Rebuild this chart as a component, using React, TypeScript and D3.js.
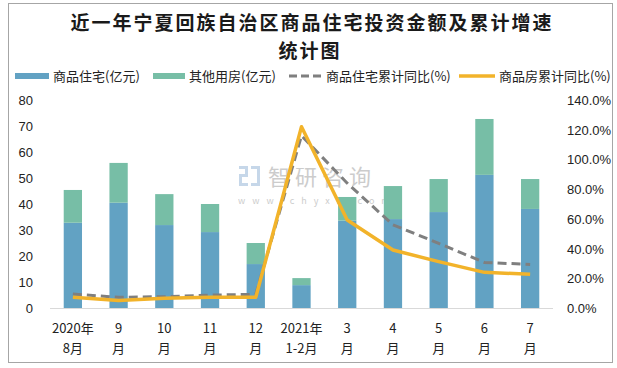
import { FC, useEffect, useRef } from "react";
import * as d3 from "d3";

const months = ["2020-08", "2020-09", "2020-10", "2020-11", "2020-12", "2021-01-02", "2021-03", "2021-04", "2021-05", "2021-06", "2021-07"];
const labelTop = ["2020年", "9", "10", "11", "12", "2021年", "3", "4", "5", "6", "7"];
const labelBottom = ["8月", "月", "月", "月", "月", "1-2月", "月", "月", "月", "月", "月"];

// 亿元
const residential = [32.8, 40.5, 31.9, 29.2, 16.9, 8.8, 33.6, 34.2, 36.9, 51.2, 38.1];
const otherUse = [12.6, 15.3, 11.9, 10.8, 8.1, 2.7, 9.1, 12.7, 12.7, 21.5, 11.5];
// %
const residentialGrowth = [9.4, 7.2, 7.6, 8.7, 9.2, 116, 84, 56, 43.5, 30.7, 29.3];
const housingGrowth = [7.2, 5.0, 6.5, 7.2, 7.2, 122, 59.2, 39, 31.2, 24.0, 22.7];

const leftTicks = [0, 10, 20, 30, 40, 50, 60, 70, 80];
const rightTicks = [0, 20, 40, 60, 80, 100, 120, 140];

const legendItems = [
    { label: "商品住宅(亿元)", kind: "bar", color: "#62a2c3" },
    { label: "其他用房(亿元)", kind: "bar", color: "#77bea6" },
    { label: "商品住宅累计同比(%)", kind: "dash", color: "#7f7f7f" },
    { label: "商品房累计同比(%)", kind: "line", color: "#f2b32a" },
];

const CJK = "'Noto Sans CJK SC', 'Noto Sans', sans-serif";

const App: FC = () => {
    const svgRef = useRef<SVGSVGElement>(null);
    const width = 617;
    const height = 368;

    useEffect(() => {
        if (!svgRef.current) return;
        const svg = d3.select(svgRef.current);

        const marginLeft = 50;
        const marginRight = 64;
        const plotTop = 100;
        const plotBottom = 308;

        const x = d3.scaleBand<string>().domain(months).range([marginLeft, width - marginRight]);
        const yLeft = d3.scaleLinear([0, 80], [plotBottom, plotTop]);
        const yRight = d3.scaleLinear([0, 140], [plotBottom, plotTop]);
        const barW = x.bandwidth() * 0.4;
        const cx = (m: string) => (x(m) ?? 0) + x.bandwidth() / 2;

        // frame
        svg.append("rect")
            .attr("x", 8.5).attr("y", 3.5)
            .attr("width", 604).attr("height", 359)
            .attr("fill", "white").attr("stroke", "#a6a6a6").attr("stroke-width", 1);

        // title
        const titleStyle = (t: d3.Selection<SVGTextElement, unknown, null, undefined>) =>
            t.attr("text-anchor", "middle")
                .attr("font-family", CJK)
                .attr("font-weight", "bold")
                .attr("font-size", 19)
                .attr("letter-spacing", 2)
                .attr("fill", "#1a1a1a");
        svg.append("text").call(titleStyle).attr("x", 312).attr("y", 30).text("近一年宁夏回族自治区商品住宅投资金额及累计增速");
        svg.append("text").call(titleStyle).attr("x", 310).attr("y", 58).text("统计图");

        // legend
        const legendX = [15, 153, 289, 459];
        const legendMarkW = [34, 32, 33, 36];
        legendItems.forEach((item, i) => {
            const g = svg.append("g").attr("transform", `translate(${legendX[i]},76)`);
            if (item.kind === "bar") {
                g.append("rect").attr("x", 0).attr("y", -3).attr("width", legendMarkW[i]).attr("height", 6).attr("fill", item.color);
            } else {
                g.append("line").attr("x1", 0).attr("x2", legendMarkW[i]).attr("y1", 0).attr("y2", 0)
                    .attr("stroke", item.color)
                    .attr("stroke-width", item.kind === "dash" ? 3 : 3.5)
                    .attr("stroke-dasharray", item.kind === "dash" ? "8,4" : null);
            }
            g.append("text")
                .attr("x", legendMarkW[i] + 4).attr("y", 5)
                .attr("font-family", CJK).attr("font-size", 13).attr("fill", "#222")
                .text(item.label);
        });

        // watermark
        const wm = svg.append("g").attr("opacity", 0.5);
        const logo = wm.append("g").attr("fill", "#8fb0d4").attr("transform", "translate(239,166)");
        logo.append("rect").attr("x", 0).attr("y", 0).attr("width", 9).attr("height", 3);
        logo.append("rect").attr("x", 6).attr("y", 0).attr("width", 3).attr("height", 11);
        logo.append("rect").attr("x", 0).attr("y", 8).attr("width", 9).attr("height", 3);
        logo.append("rect").attr("x", 0).attr("y", 8).attr("width", 3).attr("height", 12);
        logo.append("rect").attr("x", 0).attr("y", 17).attr("width", 9).attr("height", 3);
        logo.append("rect").attr("x", 12).attr("y", 0).attr("width", 9).attr("height", 3);
        logo.append("rect").attr("x", 18).attr("y", 0).attr("width", 3).attr("height", 20);
        logo.append("rect").attr("x", 12).attr("y", 17).attr("width", 9).attr("height", 3);
        wm.append("text").attr("x", 268).attr("y", 185)
            .attr("font-family", CJK).attr("font-size", 22).attr("letter-spacing", 5).attr("fill", "#9a9a9a")
            .text("智研咨询");
        wm.append("text").attr("x", 238).attr("y", 204)
            .attr("font-family", CJK).attr("font-size", 9).attr("letter-spacing", 7).attr("fill", "#9a9a9a")
            .text("www.chyxx.com");

        // stacked bars
        const bars = svg.append("g");
        months.forEach((m, i) => {
            const x0 = cx(m) - barW / 2;
            bars.append("rect")
                .attr("x", x0).attr("width", barW)
                .attr("y", yLeft(residential[i]))
                .attr("height", yLeft(0) - yLeft(residential[i]))
                .attr("fill", legendItems[0].color);
            bars.append("rect")
                .attr("x", x0).attr("width", barW)
                .attr("y", yLeft(residential[i] + otherUse[i]))
                .attr("height", yLeft(residential[i]) - yLeft(residential[i] + otherUse[i]))
                .attr("fill", legendItems[1].color);
        });

        // x axis
        svg.append("line")
            .attr("x1", marginLeft).attr("x2", width - marginRight)
            .attr("y1", plotBottom + 0.5).attr("y2", plotBottom + 0.5)
            .attr("stroke", "#d9d9d9");

        const xl = svg.append("g").attr("font-family", CJK).attr("font-size", 13).attr("fill", "#222").attr("text-anchor", "middle");
        months.forEach((m, i) => {
            xl.append("text").attr("x", cx(m)).attr("y", 333).text(labelTop[i]);
            xl.append("text").attr("x", cx(m)).attr("y", 353).text(labelBottom[i]);
        });

        // y axes
        svg.append("g")
            .attr("font-family", "'Liberation Sans', sans-serif").attr("font-size", 13).attr("fill", "#222")
            .selectAll("text").data(leftTicks).join("text")
            .attr("x", 33).attr("y", (d) => yLeft(d) + 5)
            .attr("text-anchor", "end")
            .text((d) => d);
        svg.append("g")
            .attr("font-family", "'Liberation Sans', sans-serif").attr("font-size", 13).attr("fill", "#222")
            .selectAll("text").data(rightTicks).join("text")
            .attr("x", 567).attr("y", (d) => yRight(d) + 5)
            .text((d) => d3.format(".1f")(d) + "%");

        // lines
        const line = d3.line<number>()
            .x((_, i) => cx(months[i]))
            .y((d) => yRight(d));

        svg.append("path")
            .attr("d", line(residentialGrowth))
            .attr("fill", "none")
            .attr("stroke", legendItems[2].color)
            .attr("stroke-width", 3)
            .attr("stroke-dasharray", "9,5");

        svg.append("path")
            .attr("d", line(housingGrowth))
            .attr("fill", "none")
            .attr("stroke", legendItems[3].color)
            .attr("stroke-width", 3.5)
            .attr("stroke-linejoin", "round");

        return () => {
            svg.selectAll("*").remove();
        };
    }, []);

    return (
        <svg
            ref={svgRef}
            width={width}
            height={height}
            style={{ position: "absolute", left: 0, top: 0, background: "white" }}
        />
    );
};

export default App;
